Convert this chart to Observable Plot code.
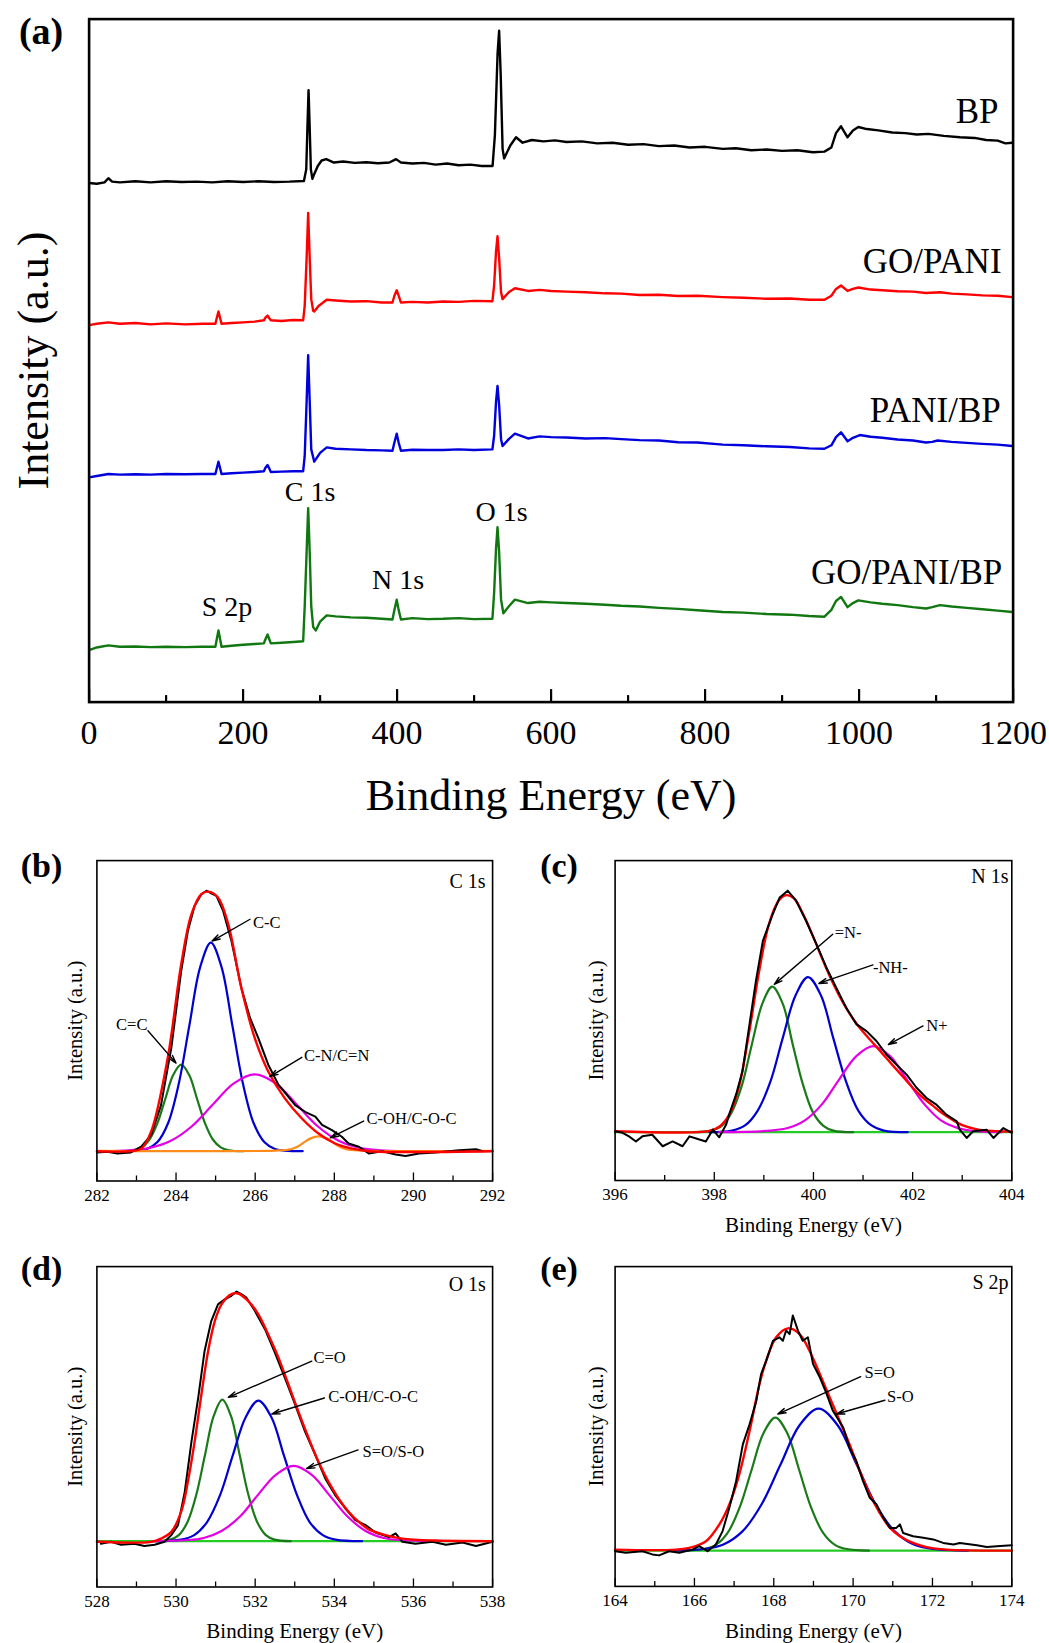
<!DOCTYPE html>
<html><head><meta charset="utf-8">
<script src="https://cdn.jsdelivr.net/npm/d3@7"></script>
<script src="https://cdn.jsdelivr.net/npm/@observablehq/plot@0.6"></script>
<style>
body{margin:0;background:#fff;}
#root{position:relative;width:1049px;height:1643px;background:#fff;overflow:hidden}
</style></head><body><div id="root"></div>
<script>
const FONT = "'Liberation Serif','Times New Roman',Times,serif";

// ---------- Panel (a): survey spectra [binding energy eV, intensity a.u.] ----------
const surveyBP = [[0,76.0],[10,75.9],[20,76.1],[25,76.7],[30,76.2],[40,76.1],[60,76.25],[80,76.1],[100,76.25],[120,76.15],[140,76.2],[160,76.1],[180,76.25],[200,76.15],[220,76.25],[240,76.15],[260,76.2],[279,76.3],[282,78],[283.5,84],[285,89.6],[286.5,84],[288,78],[290,76.6],[292,77.2],[297,78.5],[302,79.3],[308,79.5],[318,79.0],[330,79.15],[345,78.95],[360,79.05],[375,78.9],[390,79.0],[398.6,79.5],[405,79.0],[420,78.85],[435,78.95],[450,78.7],[465,78.85],[480,78.6],[495,78.7],[510,78.5],[524,78.5],[527,83],[530.5,95],[532.5,98.3],[534.5,92],[537,81],[539,79.6],[547,81.5],[554.5,82.7],[563,81.9],[575,82.3],[590,82.1],[605,82.25],[620,82.0],[640,82.1],[660,81.8],[680,81.9],[700,81.6],[720,81.7],[740,81.4],[760,81.5],[780,81.2],[800,81.3],[823,81.0],[840,81.1],[860,80.8],[880,80.9],[900,80.7],[920,80.8],[940,80.5],[955,80.6],[964,81.2],[970,83.3],[976.5,84.3],[985,82.7],[992,83.7],[999,84.2],[1010,83.9],[1025,83.7],[1043,83.4],[1060,83.3],[1075,83.1],[1090,83.2],[1110,82.9],[1131,82.7],[1150,82.6],[1165,82.3],[1180,82.2],[1190,81.8],[1199,81.9]];
const surveyGOPANI = [[0,55.2],[10,55.4],[25,55.6],[40,55.4],[60,55.5],[80,55.3],[100,55.45],[125,55.3],[148,55.4],[164,55.4],[166,56.3],[168,57.2],[170,56.3],[172,55.4],[185,55.5],[200,55.6],[215,55.7],[227,55.9],[229,56.3],[231.8,56.6],[234,56.2],[236,55.9],[250,55.8],[265,55.95],[278,55.9],[280,58],[282.5,65],[284.5,71.6],[286.5,65],[288.5,59],[291,57.3],[292.4,57.2],[298,58.0],[308.6,58.9],[320,58.8],[340,58.65],[360,58.7],[380,58.5],[394,58.5],[396.5,59.5],[399.5,60.3],[402,59.5],[405,58.5],[420,58.6],[440,58.5],[460,58.65],[480,58.6],[500,58.75],[523.8,58.7],[526,61],[528.5,66],[530.4,68.2],[532.5,65],[535,60],[537,59.0],[545,60.0],[553,60.6],[570,60.2],[585,60.35],[600,60.2],[620,60.1],[645,60.0],[670,59.85],[691,59.8],[715,59.6],[740,59.65],[765,59.45],[790,59.5],[823,59.3],[850,59.2],[880,59.05],[910,59.1],[935,58.9],[955,58.9],[964,59.5],[970,60.5],[976.5,61.0],[985,60.2],[992,60.5],[999,60.7],[1015,60.4],[1030,60.3],[1050,60.15],[1070,60.1],[1087,59.9],[1105,60.0],[1120,59.8],[1140,59.7],[1160,59.55],[1180,59.5],[1199,59.3]];
const surveyPANIBP = [[0,32.9],[10,33.1],[25,33.4],[40,33.3],[60,33.35],[80,33.3],[100,33.4],[125,33.35],[145,33.4],[164,33.4],[166,34.3],[168,35.2],[170,34.3],[172,33.4],[185,33.5],[200,33.6],[215,33.7],[227,33.8],[229,34.3],[231.8,34.7],[234,34.2],[236,33.7],[250,33.75],[265,33.8],[278,33.8],[280,36],[282.5,44],[284.5,50.8],[286.5,44],[288.5,37],[292.4,35.2],[300,36.5],[308.6,37.3],[320,37.1],[340,37.0],[360,36.9],[380,36.85],[394,36.8],[396.5,38],[399.5,39.3],[402,38],[405,36.8],[420,36.95],[440,36.9],[460,36.9],[480,37.0],[500,36.9],[523.8,37.0],[526,39],[528.5,44],[530.4,46.3],[532.5,43.5],[535,38.5],[537,37.5],[545,38.5],[553,39.3],[570,38.6],[585,38.9],[600,38.8],[620,38.75],[645,38.6],[670,38.65],[691,38.5],[715,38.35],[740,38.3],[765,38.05],[790,38.0],[823,37.7],[850,37.6],[880,37.45],[910,37.35],[935,37.15],[955,37.1],[964,37.6],[970,38.8],[976.5,39.5],[985,38.2],[992,38.7],[1001,39.1],[1015,38.85],[1030,38.7],[1050,38.45],[1070,38.3],[1087,38.0],[1095,38.1],[1102,38.3],[1120,38.1],[1140,37.95],[1160,37.8],[1180,37.7],[1199,37.5]];
const surveyGOPANIBP = [[0,7.6],[10,8.0],[25,8.3],[40,8.1],[60,8.15],[80,8.05],[100,8.1],[125,8.05],[145,8.1],[164,8.1],[166,9.3],[168,10.5],[170,9.3],[172,8.1],[185,8.25],[200,8.4],[215,8.5],[227,8.6],[229,9.2],[231.8,9.9],[234,9.2],[236,8.6],[250,8.7],[265,8.8],[278,8.9],[280,14],[282.5,22],[284.5,28.4],[286.5,22],[288.5,14],[291,11],[294.5,10.5],[300,11.8],[308.6,12.7],[320,12.55],[340,12.4],[360,12.35],[380,12.2],[394,12.1],[396.5,13.5],[399.5,15.0],[402,13.5],[405,12.1],[420,12.3],[440,12.15],[460,12.2],[480,12.3],[500,12.15],[523.8,12.2],[526,16],[528.5,22.5],[530.4,25.6],[532.5,22],[535,15],[538,13.0],[545,14.0],[553,15.0],[570,14.5],[585,14.7],[600,14.6],[620,14.5],[645,14.4],[670,14.25],[691,14.1],[715,14.0],[740,13.8],[765,13.65],[790,13.45],[823,13.2],[850,13.1],[880,12.9],[910,12.8],[935,12.6],[955,12.5],[964,13.5],[970,14.8],[976.5,15.4],[985,13.9],[992,14.5],[999,14.9],[1015,14.6],[1030,14.4],[1050,14.2],[1070,13.9],[1087,13.7],[1095,13.9],[1105,14.2],[1120,14.0],[1140,13.8],[1160,13.6],[1180,13.4],[1199,13.2]];
const surveyNames = [
  {label:"BP", x:1181, y:86.5},
  {label:"GO/PANI", x:1185, y:64.4},
  {label:"PANI/BP", x:1184, y:42.6},
  {label:"GO/PANI/BP", x:1186, y:19.0}
];
const surveyPeaks = [
  {label:"C 1s", x:286.9, y:30.7},
  {label:"O 1s", x:535.6, y:27.9},
  {label:"N 1s", x:401.2, y:17.8},
  {label:"S 2p", x:179.1, y:13.9}
];
const surveyMajor = [0,200,400,600,800,1000,1200];
const surveyMinor = [100,300,500,700,900,1100];

// ---------- Panel (b): C 1s ----------
const c1sRaw = [[282.0,8.9],[282.27,9.1],[282.52,8.6],[282.86,8.9],[283.12,10.7],[283.37,14.3],[283.62,23.7],[283.88,41.5],[284.13,65.5],[284.3,78.1],[284.47,85.9],[284.64,89.5],[284.77,90.6],[284.89,89.8],[285.02,89.0],[285.19,84.3],[285.4,74.9],[285.65,60.3],[285.87,50.9],[286.08,44.6],[286.33,36.3],[286.59,30.0],[286.84,26.3],[287.01,23.7],[287.26,21.6],[287.52,20.1],[287.69,17.5],[287.94,15.9],[288.19,13.8],[288.36,11.7],[288.62,10.7],[288.87,8.6],[289.21,9.3],[289.55,8.3],[289.8,7.8],[290.14,8.6],[290.56,8.9],[291.15,9.6],[291.58,9.9],[291.75,9.3]];
const c1sFit = [[282,9.3],[282.8,9.3],[283.12,10.1],[283.37,15.4],[283.79,38.4],[284.13,67.6],[284.39,83.3],[284.64,89.5],[284.81,90.3],[285.06,88.5],[285.32,80.1],[285.65,60.3],[285.99,44.6],[286.33,34.2],[286.75,25.8],[287.18,19.5],[287.6,14.8],[288.02,11.7],[288.45,10.1],[288.87,9.3],[292,9.3]];
const c1sCeqC = [[282.6,9.3],[282.93,9.6],[283.13,10.5],[283.33,12.95],[283.53,18.07],[283.73,25.68],[283.93,33.13],[284.13,36.3],[284.33,33.13],[284.53,25.68],[284.73,18.07],[284.93,12.95],[285.13,10.5],[285.33,9.6],[285.7,9.3]];
const c1sCC = [[282.6,9.3],[283.26,10.0],[283.53,12.16],[283.8,18.11],[284.07,30.44],[284.34,48.78],[284.61,66.75],[284.88,74.4],[285.15,66.75],[285.42,48.78],[285.69,30.44],[285.96,18.11],[286.23,12.16],[286.5,10.0],[287.2,9.3]];
const c1sCN = [[282.2,9.3],[282.81,9.57],[283.34,10.35],[283.87,12.55],[284.4,17.09],[284.93,23.86],[285.46,30.48],[285.99,33.3],[286.52,30.48],[287.05,23.86],[287.58,17.09],[288.11,12.55],[288.64,10.35],[289.17,9.57],[289.8,9.3]];
const c1sCOH = [[282,9.4],[286.5,9.5],[286.9,9.9],[287.1,10.9],[287.25,12.2],[287.4,13.3],[287.6,13.9],[287.8,13.3],[287.95,12.2],[288.1,10.9],[288.3,9.9],[288.7,9.5],[292,9.4]];
const c1sNotes = [
  {label:"C=C", tx:282.88, ty:48.8, x1:283.29, y1:46.9, x2:284.0, y2:36.8},
  {label:"C-C", tx:286.29, ty:80.7, x1:285.87, y1:81.7, x2:284.91, y2:74.9},
  {label:"C-N/C=N", tx:288.06, ty:39.2, x1:287.18, y1:38.6, x2:286.37, y2:32.6},
  {label:"C-OH/C-O-C", tx:289.95, ty:19.3, x1:288.74, y1:18.7, x2:287.9, y2:13.5}
];

// ---------- Panel (c): N 1s ----------
const n1sRaw = [[396.0,15.4],[396.15,14.9],[396.28,13.8],[396.42,12.2],[396.55,13.8],[396.75,14.3],[396.96,10.7],[397.16,12.2],[397.36,10.7],[397.5,13.8],[397.7,12.8],[397.83,12.2],[397.97,15.9],[398.1,13.5],[398.24,17.5],[398.3,20.6],[398.44,26.9],[398.57,34.2],[398.71,48.8],[398.84,62.4],[398.98,74.9],[399.18,83.3],[399.32,88.5],[399.48,90.6],[399.65,87.5],[399.85,81.2],[400.06,73.9],[400.26,66.6],[400.46,60.3],[400.66,54.0],[400.87,48.8],[401.07,46.7],[401.27,43.6],[401.47,39.4],[401.67,36.3],[401.88,33.1],[402.08,29.0],[402.28,25.8],[402.48,23.7],[402.68,20.6],[402.89,18.5],[402.95,15.9],[403.09,13.3],[403.22,15.4],[403.49,15.9],[403.63,13.3],[403.83,16.4],[404.0,14.9]];
const n1sFit = [[396,15.4],[397.9,15.5],[398.1,16.8],[398.3,20.5],[398.5,29.5],[398.7,46],[398.9,65],[399.1,80],[399.3,87.5],[399.45,89.2],[399.6,88.3],[399.8,83],[400.0,76],[400.2,68.5],[400.4,61.5],[400.6,55.5],[400.8,50.5],[401.0,46.5],[401.2,43],[401.4,39.5],[401.6,36],[401.8,32.5],[402.0,29],[402.2,26],[402.4,23.5],[402.6,21],[402.8,19],[403.0,17.3],[403.3,16],[403.6,15.5],[404,15.3]];
const n1sBase = [[396,15.1],[404,15.1]];
const n1sImine = [[397.6,15.1],[397.94,15.6],[398.15,17.1],[398.35,21.3],[398.56,29.9],[398.76,42.7],[398.97,55.3],[399.17,60.6],[399.38,55.3],[399.58,42.7],[399.79,29.9],[399.99,21.3],[400.2,17.1],[400.4,15.6],[400.8,15.1]];
const n1sAmine = [[397.9,15.1],[398.36,15.6],[398.62,17.2],[398.87,21.7],[399.13,30.8],[399.38,44.5],[399.64,57.9],[399.89,63.6],[400.15,57.9],[400.4,44.5],[400.66,30.8],[400.91,21.7],[401.17,17.2],[401.42,15.6],[401.9,15.1]];
const n1sCation = [[398.1,15.1],[398.6,15.2],[399.13,15.6],[399.48,16.4],[399.82,18.7],[400.17,23.8],[400.51,31.4],[400.86,38.8],[401.2,42.0],[401.55,38.8],[401.89,31.4],[402.24,23.8],[402.58,18.7],[402.93,16.3],[403.27,15.4],[403.8,15.1]];
const n1sNotes = [
  {label:"=N-", tx:400.70, ty:77.5, x1:400.39, y1:77.0, x2:399.21, y2:61.3},
  {label:"-NH-", tx:401.55, ty:66.6, x1:401.2, y1:67.4, x2:400.11, y2:61.6},
  {label:"N+", tx:402.49, ty:48.3, x1:402.21, y1:48.3, x2:401.51, y2:42.5}
];

// ---------- Panel (d): O 1s ----------
const o1sRaw = [[528.1,13.5],[528.36,14.1],[528.61,13.2],[528.95,13.5],[529.2,12.8],[529.46,13.2],[529.71,14.1],[529.88,16.2],[530.05,19.3],[530.22,29.7],[530.39,45.4],[530.56,59.0],[530.72,73.6],[530.89,83.0],[531.06,88.2],[531.23,89.8],[531.4,90.9],[531.53,92.2],[531.65,91.4],[531.78,90.3],[531.99,86.2],[532.25,80.4],[532.5,73.1],[532.75,65.3],[533.01,56.9],[533.26,48.5],[533.52,41.2],[533.77,33.9],[534.02,28.7],[534.28,24.5],[534.53,20.9],[534.79,19.3],[535.04,17.0],[535.38,15.6],[535.55,16.7],[535.72,14.1],[536.05,13.5],[536.48,14.1],[536.82,13.2],[537.24,13.9],[537.58,12.8],[538.0,14.1]];
const o1sFit = [[528.0,14.1],[529.37,14.1],[529.62,15.1],[529.88,17.2],[530.13,23.5],[530.3,32.9],[530.47,45.4],[530.64,60.0],[530.81,73.6],[530.98,83.0],[531.15,88.2],[531.4,91.4],[531.57,91.6],[531.82,89.3],[532.08,85.1],[532.33,78.8],[532.59,71.5],[532.84,63.2],[533.09,54.8],[533.35,46.5],[533.6,39.1],[533.85,32.9],[534.11,27.6],[534.36,23.5],[534.62,20.3],[534.87,18.0],[535.29,16.2],[535.72,15.1],[536.56,14.5],[538.0,14.3]];
const o1sBase = [[528,14.3],[538,14.3]];
const o1sCO = [[529.4,14.3],[529.85,14.8],[530.07,16.2],[530.29,20.3],[530.51,28.7],[530.73,41.1],[530.95,53.3],[531.17,58.5],[531.39,53.3],[531.61,41.1],[531.83,28.7],[532.05,20.3],[532.27,16.2],[532.49,14.8],[532.9,14.3]];
const o1sCOH = [[529.5,14.3],[530.13,14.8],[530.46,16.2],[530.78,20.2],[531.11,28.6],[531.43,40.9],[531.76,53.0],[532.08,58.2],[532.41,53.0],[532.73,40.9],[533.06,28.6],[533.38,20.2],[533.71,16.2],[534.03,14.8],[534.7,14.3]];
const o1sSO = [[529.4,14.3],[530.24,14.6],[530.7,15.3],[531.15,17.5],[531.61,21.9],[532.06,28.6],[532.52,35.0],[532.97,37.8],[533.43,35.0],[533.88,28.6],[534.34,21.9],[534.79,17.5],[535.25,15.3],[535.7,14.6],[536.5,14.3]];
const o1sNotes = [
  {label:"C=O", tx:533.88, ty:71.5, x1:533.43, y1:70.5, x2:531.32, y2:59.2},
  {label:"C-OH/C-O-C", tx:534.98, ty:59.5, x1:533.75, y1:59.0, x2:532.42, y2:54.0},
  {label:"S=O/S-O", tx:535.49, ty:42.3, x1:534.6, y1:42.8, x2:533.3, y2:37.0}
];

// ---------- Panel (e): S 2p ----------
const s2pRaw = [[164.0,11.0],[164.27,10.5],[164.69,11.0],[164.94,10.0],[165.11,9.7],[165.36,11.0],[165.62,10.5],[165.95,11.5],[166.12,12.6],[166.33,11.0],[166.54,13.1],[166.71,17.3],[166.88,24.6],[167.05,32.9],[167.22,44.4],[167.39,50.7],[167.56,58.0],[167.68,66.4],[167.81,70.6],[167.98,76.8],[168.14,77.9],[168.23,76.8],[168.31,80.0],[168.4,78.9],[168.48,84.7],[168.61,80.0],[168.73,76.8],[168.86,77.9],[168.99,69.5],[169.16,65.4],[169.32,60.6],[169.49,54.9],[169.75,49.7],[169.91,43.4],[170.08,39.2],[170.25,32.9],[170.42,27.7],[170.59,25.6],[170.76,21.5],[170.93,18.3],[171.09,18.3],[171.18,19.4],[171.26,16.7],[171.51,15.7],[171.77,15.2],[172.02,14.7],[172.27,13.6],[172.53,13.1],[172.69,13.6],[173.12,12.9],[173.37,12.3],[173.71,12.6],[174.0,12.9]];
const s2pFit = [[164.0,11.5],[165.53,11.5],[165.95,12.3],[166.29,14.1],[166.63,19.4],[166.88,25.6],[167.13,35.0],[167.39,48.6],[167.64,63.3],[167.81,70.6],[168.06,77.9],[168.36,80.7],[168.65,78.9],[168.9,73.7],[169.16,66.4],[169.41,59.1],[169.66,51.8],[169.91,44.4],[170.17,36.1],[170.42,28.8],[170.67,23.0],[170.93,18.3],[171.18,15.7],[171.51,13.6],[171.85,12.3],[172.36,11.5],[174.0,11.2]];
const s2pBase = [[164,11.2],[174,11.2]];
const s2pSdO = [[165.7,11.2],[166.24,11.7],[166.54,13.0],[166.84,16.8],[167.14,24.7],[167.44,36.4],[167.74,47.9],[168.04,52.8],[168.34,47.9],[168.64,36.4],[168.94,24.7],[169.24,16.8],[169.54,13.0],[169.84,11.7],[170.4,11.2]];
const s2pSO = [[165.5,11.2],[166.25,11.7],[166.73,13.1],[167.21,17.2],[167.69,25.6],[168.17,38.1],[168.65,50.4],[169.13,55.6],[169.61,50.4],[170.09,38.1],[170.57,25.6],[171.05,17.2],[171.53,13.1],[172.01,11.7],[172.9,11.2]];
const s2pNotes = [
  {label:"S=O", tx:170.67, ty:66.9, x1:170.19, y1:65.6, x2:168.1, y2:53.9},
  {label:"S-O", tx:171.19, ty:59.3, x1:170.8, y1:58.2, x2:169.58, y2:53.9}
];

const root = document.getElementById("root");
function place(svg, left, top) {
  svg.style.position = "absolute";
  svg.style.left = left + "px";
  svg.style.top = top + "px";
  root.appendChild(svg);
}
const XY = {x: d => d[0], y: d => d[1]};
const range = (a, b, s) => d3.range(a, b + s / 2, s);

// ----- Panel (a) -----
{
  const W = 1049, H = 830, mt = 18.6, mb = 128.4, ml = 88.6, mr = 36.4;
  const fh = H - mt - mb;
  const svg = Plot.plot({
    width: W, height: H, marginTop: mt, marginBottom: mb, marginLeft: ml, marginRight: mr,
    x: {domain: [0, 1200]}, y: {domain: [0, 100], axis: null},
    style: {fontFamily: FONT, background: "white", color: "black", overflow: "visible"},
    marks: [
      Plot.line(surveyBP, {...XY, stroke: "#000000", strokeWidth: 2.4}),
      Plot.line(surveyGOPANI, {...XY, stroke: "#ff0000", strokeWidth: 2.4}),
      Plot.line(surveyPANIBP, {...XY, stroke: "#0000dd", strokeWidth: 2.4}),
      Plot.line(surveyGOPANIBP, {...XY, stroke: "#117711", strokeWidth: 2.4}),
      Plot.text(surveyNames, {x: "x", y: "y", text: "label", textAnchor: "end", fontSize: 35}),
      Plot.text(surveyPeaks, {x: "x", y: "y", text: "label", fontSize: 28}),
      Plot.ruleX(surveyMajor, {x: d => d, y1: 0, y2: 100 * 12.5 / fh, stroke: "black", strokeWidth: 2.2}),
      Plot.ruleX(surveyMinor, {x: d => d, y1: 0, y2: 100 * 6.5 / fh, stroke: "black", strokeWidth: 2.2}),
      Plot.axisX({ticks: surveyMajor, tickSize: 0, tickPadding: 17.7, fontSize: 34, tickFormat: d => String(d), label: null}),
      Plot.frame({stroke: "black", strokeWidth: 2.6}),
      Plot.text(["(a)"], {frameAnchor: "top-left", dx: -48, dy: 12.4, fontSize: 38, fontWeight: "bold", textAnchor: "middle", lineAnchor: "middle"}),
      Plot.text(["Intensity (a.u.)"], {frameAnchor: "left", rotate: -90, dx: -55.6, fontSize: 44, textAnchor: "middle", lineAnchor: "middle"}),
      Plot.text(["Binding Energy (eV)"], {frameAnchor: "bottom", dy: 93.4, fontSize: 44, textAnchor: "middle", lineAnchor: "middle"})
    ]
  });
  place(svg, 0, 0);
}

// ----- Sub panels -----
function spectrum(s) {
  const fh = s.H - s.mt - s.mb;
  const lines = s.comps.map(c => Plot.line(c.data, {...XY, stroke: c.color, strokeWidth: 2.2, curve: "catmull-rom"}));
  const raw = Plot.line(s.raw, {...XY, stroke: "black", strokeWidth: 2});
  const fit = Plot.line(s.fit, {...XY, stroke: "#ff0000", strokeWidth: 2.4, curve: "catmull-rom"});
  const marks = [
    ...lines,
    ...(s.fitOnTop ? [raw, fit] : [fit, raw]),
    Plot.arrow(s.notes, {x1: "x1", y1: "y1", x2: "x2", y2: "y2", stroke: "black", strokeWidth: 1.4, headLength: 9, headAngle: 32}),
    Plot.text(s.notes, {x: "tx", y: "ty", text: "label", fontSize: 16.5}),
    Plot.ruleX(s.major, {x: d => d, y1: 0, y2: 100 * 8 / fh, stroke: "black", strokeWidth: 1.3}),
    Plot.ruleX(s.minor, {x: d => d, y1: 0, y2: 100 * 5 / fh, stroke: "black", strokeWidth: 1.3}),
    Plot.axisX({ticks: s.major, tickSize: 0, tickPadding: 7.6, fontSize: 17, tickFormat: d => String(d), label: null}),
    Plot.frame({stroke: "black", strokeWidth: 1.6}),
    Plot.text([s.letter], {frameAnchor: "top-left", dx: s.letterDx, dy: s.letterDy, fontSize: 34, fontWeight: "bold", textAnchor: "middle", lineAnchor: "middle"}),
    Plot.text([s.element], {frameAnchor: "top-right", dx: s.elemDx, dy: s.elemDy, fontSize: 20, textAnchor: "end", lineAnchor: "middle"}),
    Plot.text(["Intensity (a.u.)"], {frameAnchor: "left", rotate: -90, dx: s.ylabDx, fontSize: 20.5, textAnchor: "middle", lineAnchor: "middle"})
  ];
  if (s.xlabel) marks.push(Plot.text(["Binding Energy (eV)"], {frameAnchor: "bottom", dy: 44.4, fontSize: 21, textAnchor: "middle", lineAnchor: "middle"}));
  const svg = Plot.plot({
    width: s.W, height: s.H, marginTop: s.mt, marginBottom: s.mb, marginLeft: s.ml, marginRight: s.mr,
    x: {domain: s.domain}, y: {domain: [0, 100], axis: null},
    style: {fontFamily: FONT, background: "transparent", color: "black", overflow: "visible"},
    marks
  });
  place(svg, s.left, s.top);
}

const GREEN = "#1a7a1a", BLUE = "#0000d0", MAG = "#e400e4", ORANGE = "#ff8c1a", LGREEN = "#26cc26";

spectrum({left: 0, top: 830, W: 525, H: 406, mt: 30.1, mb: 55.5, ml: 96.4, mr: 32.9,
  domain: [282, 292], major: range(282, 292, 2), minor: range(283, 291, 2),
  raw: c1sRaw, fit: c1sFit, fitOnTop: true,
  comps: [{data: c1sCeqC, color: GREEN}, {data: c1sCC, color: BLUE}, {data: c1sCN, color: MAG}, {data: c1sCOH, color: ORANGE}],
  notes: c1sNotes, letter: "(b)", letterDx: -55.4, letterDy: 5.9,
  element: "C 1s", elemDx: -7, elemDy: 21, ylabDx: -21, xlabel: false});

spectrum({left: 525, top: 830, W: 524, H: 410, mt: 30.1, mb: 60, ml: 89.6, mr: 37.7,
  domain: [396, 404], major: range(396, 404, 2), minor: range(397, 403, 2),
  raw: n1sRaw, fit: n1sFit, fitOnTop: false,
  comps: [{data: n1sBase, color: LGREEN}, {data: n1sImine, color: GREEN}, {data: n1sAmine, color: BLUE}, {data: n1sCation, color: MAG}],
  notes: n1sNotes, letter: "(c)", letterDx: -56.1, letterDy: 5.9,
  element: "N 1s", elemDx: -3.3, elemDy: 16.3, ylabDx: -18.3, xlabel: true});

spectrum({left: 0, top: 1240, W: 525, H: 403, mt: 26.1, mb: 56.5, ml: 96.4, mr: 32.9,
  domain: [528, 538], major: range(528, 538, 2), minor: range(529, 537, 2),
  raw: o1sRaw, fit: o1sFit, fitOnTop: true,
  comps: [{data: o1sBase, color: LGREEN}, {data: o1sCO, color: GREEN}, {data: o1sCOH, color: BLUE}, {data: o1sSO, color: MAG}],
  notes: o1sNotes, letter: "(d)", letterDx: -55.4, letterDy: 2.4,
  element: "O 1s", elemDx: -6.7, elemDy: 18.4, ylabDx: -21, xlabel: true});

spectrum({left: 525, top: 1240, W: 524, H: 403, mt: 26.1, mb: 57.1, ml: 89.6, mr: 37.7,
  domain: [164, 174], major: range(164, 174, 2), minor: range(165, 173, 2),
  raw: s2pRaw, fit: s2pFit, fitOnTop: false,
  comps: [{data: s2pBase, color: LGREEN}, {data: s2pSdO, color: GREEN}, {data: s2pSO, color: BLUE}],
  notes: s2pNotes, letter: "(e)", letterDx: -56.1, letterDy: 2.4,
  element: "S 2p", elemDx: -3.3, elemDy: 16, ylabDx: -18.3, xlabel: true});
</script>
</body></html>
